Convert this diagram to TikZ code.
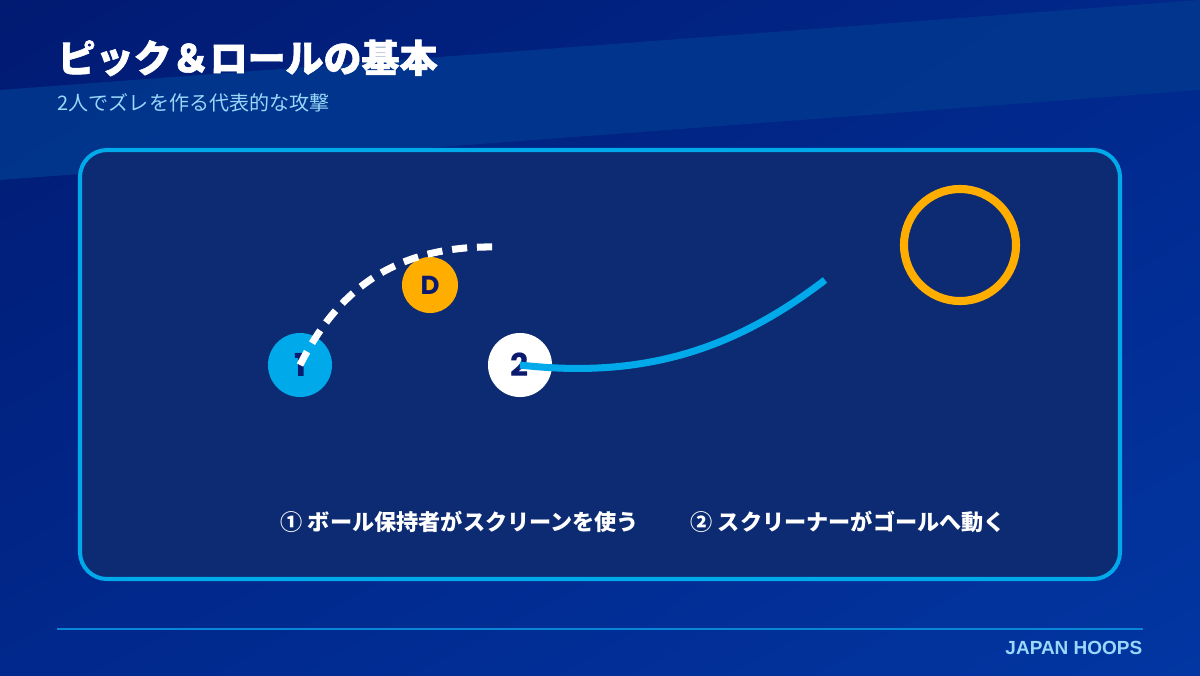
\documentclass[tikz,border=0pt]{standalone}
\usepackage{fontspec}
\usepackage{xcolor}
\usetikzlibrary{shadings}
\setmainfont{Noto Sans CJK JP}
\newfontfamily\titlefont[BoldFeatures={FakeBold=1.6}]{Noto Sans CJK JP}
\newfontfamily\numfont{Poppins}
\newfontfamily\logofont{Liberation Sans}
\definecolor{bgdark}{HTML}{011A72}
\definecolor{bgmid}{HTML}{01288C}
\definecolor{bglight}{HTML}{0236A2}
\definecolor{band}{HTML}{02388F}
\definecolor{panelfill}{HTML}{0D2B72}
\definecolor{cyanline}{HTML}{00AAEA}
\definecolor{orange}{HTML}{FFAE00}
\definecolor{navy}{HTML}{0A1A6E}
\definecolor{lightblue}{HTML}{98D8FA}
\definecolor{rule}{HTML}{0A86D8}
\tikzstyle{player}=[shape=circle, inner sep=0pt, minimum size=0.64cm, text=navy, font=\numfont\bfseries\fontsize{9}{9}\selectfont]
\tikzstyle{screen}=[line width=2pt, cyanline]
\tikzstyle{dribble}=[line width=2pt, white, dash pattern=on 4.3pt off 2.8pt]
\tikzstyle{caption}=[anchor=west, inner sep=0pt, text=white, font=\bfseries\fontsize{6.3}{7}\selectfont]

\begin{document}
\begin{tikzpicture}[x=0.01cm, y=-0.01cm]
            \useasboundingbox (0,0) rectangle (1200,675);
            \shade[upper left=bgdark, upper right=bgmid, lower left=bgmid, lower right=bglight] (0,0) rectangle (1200,675);
            \fill[band, opacity=0.85] (0,90) -- (1200,0) -- (1200,90) -- (0,180) -- cycle;
            \node[anchor=west, inner sep=0pt, text=white, font=\titlefont\bfseries\fontsize{10.8}{12}\selectfont] (title) at (57,58) {ピック＆ロールの基本};
            \node[anchor=west, inner sep=0pt, text=lightblue, font=\fontsize{5.7}{7}\selectfont] (subtitle) at (57,103) {2人でズレを作る代表的な攻撃};
            \draw[cyanline, line width=1.15pt, fill=panelfill, rounded corners=0.27cm] (80,150) rectangle (1120,579);
            \node[shape=circle, draw=orange, line width=2.3pt, minimum size=1.12cm] (hoop) at (960,245) {};
            \node[player, fill=cyanline] (1) at (300,365) {1};
            \node[player, fill=orange, minimum size=0.56cm, font=\numfont\bfseries\fontsize{7.4}{8}\selectfont] (D) at (430,285) {D};
            \node[player, fill=white] (2) at (520,365) {2};
            \coordinate (e1) at (498,247);
            \coordinate (e2) at (825,280);
            \draw[dribble] (1.center) .. controls (340,285) and (400,245) .. (e1);
            \draw[screen] (2.center) .. controls (650,380) and (740,345) .. (e2);
            \node[caption] (step1) at (280,522) {① ボール保持者がスクリーンを使う};
            \node[caption] (step2) at (690,522) {② スクリーナーがゴールへ動く};
            \coordinate (r1) at (57,629);
            \coordinate (r2) at (1143,629);
            \draw[rule, line width=0.6pt] (r1) -- (r2);
            \node[anchor=east, inner sep=0pt, text=lightblue, font=\logofont\bfseries\fontsize{5.4}{6}\selectfont] (logo) at (1143,648) {JAPAN HOOPS};
        \end{tikzpicture}
\end{document}
